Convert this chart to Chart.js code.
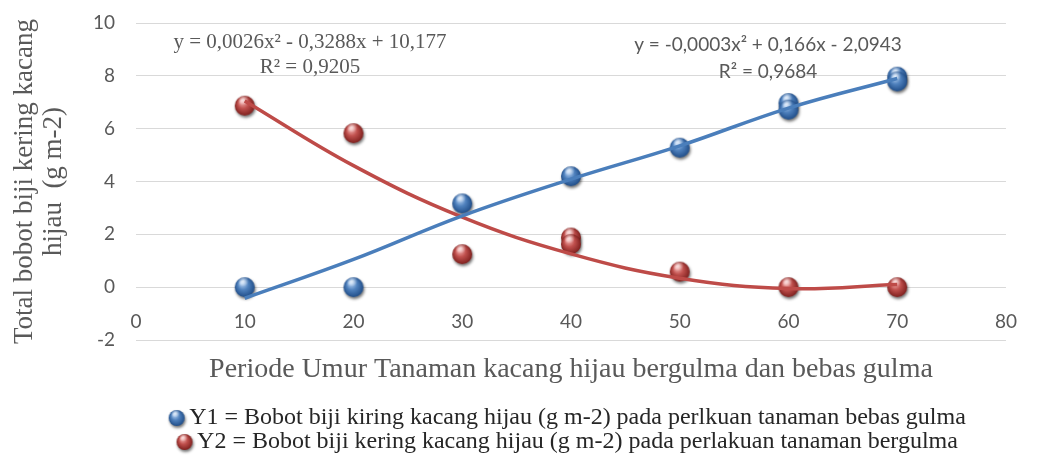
<!DOCTYPE html>
<html>
<head>
<meta charset="utf-8">
<script src="https://cdn.jsdelivr.net/npm/chart.js@4/dist/chart.umd.min.js"></script>
<style>
  html,body{margin:0;padding:0;background:#fff}
  #wrap{width:1040px;height:455px;position:relative}
</style>
</head>
<body>
<div id="wrap"><canvas id="chart"></canvas></div>
<script>
// values
const periods = [10, 20, 30, 40, 50, 60, 70];
const y1X = [10, 20, 30, 40, 50, 60, 60, 70, 70];
const y1Val = [0, 0, 3.17, 4.2, 5.28, 6.97, 6.72, 7.97, 7.79];
const y2X = [10, 20, 30, 40, 40, 50, 60, 70];
const y2Val = [6.87, 5.83, 1.25, 1.88, 1.63, 0.59, 0, 0];
// trend curves as drawn in the picture, sampled at each period
const y1Trend = [-0.42, 1.05, 2.7, 4.09, 5.35, 6.78, 7.9];
const y2Trend = [7.05, 4.6, 2.65, 1.26, 0.34, -0.05, 0.1];

const xMin = 0, xMax = 80, xStep = 10;
const yMin = -2, yMax = 10, yStep = 2;

const seriesNames = [
  'Y1 = Bobot biji kiring kacang hijau (g m-2) pada perlkuan tanaman bebas gulma',
  'Y2 = Bobot biji kering kacang hijau (g m-2) pada perlakuan tanaman bergulma'
];
const xTitle = 'Periode Umur Tanaman kacang hijau bergulma dan bebas gulma';
const yTitle = ['Total bobot biji kering kacang', 'hijau  (g m-2)'];
const eqY2 = ['y = 0,0026x\u00B2 - 0,3288x + 10,177', 'R\u00B2 = 0,9205'];
const eqY1 = ['y = -0,0003x\u00B2 + 0,166x - 2,0943', 'R\u00B2 = 0,9684'];

const blue = {base:'#4f81bd', light:'#b4d0f2', dark:'#1d4a85', line:'#4a7ebb'};
const red = {base:'#c0504d', light:'#f3b0ae', dark:'#7a1d1b', line:'#be4b48'};

// glossy ball used as point marker
function sphere(c, r){
  const pad = 5;
  const cv = document.createElement('canvas');
  cv.width = cv.height = 2*r + 2*pad;
  const g = cv.getContext('2d');
  const cx = r + pad, cy = r + pad;
  g.save();
  g.shadowColor = 'rgba(0,0,0,0.55)';
  g.shadowBlur = 3; g.shadowOffsetX = 1; g.shadowOffsetY = 2;
  const grad = g.createRadialGradient(cx - r*0.3, cy - r*0.45, r*0.1, cx, cy, r*1.05);
  grad.addColorStop(0, c.light);
  grad.addColorStop(0.45, c.base);
  grad.addColorStop(1, c.dark);
  g.fillStyle = grad;
  g.beginPath(); g.arc(cx, cy, r, 0, Math.PI*2); g.fill();
  g.restore();
  // small highlight
  const hl = g.createRadialGradient(cx - r*0.15, cy - r*0.6, 0, cx - r*0.15, cy - r*0.6, r*0.55);
  hl.addColorStop(0, 'rgba(255,255,255,0.7)');
  hl.addColorStop(1, 'rgba(255,255,255,0)');
  g.fillStyle = hl;
  g.beginPath(); g.arc(cx, cy, r, 0, Math.PI*2); g.fill();
  return cv;
}
const blueBall = sphere(blue, 10), redBall = sphere(red, 10);
const blueMini = sphere(blue, 8), redMini = sphere(red, 8);

const pts = (xs, ys) => xs.map((x, i) => ({x, y: ys[i]}));

const equations = {
  id: 'equations',
  afterDatasetsDraw(chart){
    const c = chart.ctx;
    c.save();
    c.fillStyle = '#595959';
    c.textAlign = 'center';
    c.textBaseline = 'middle';
    c.font = '21px "Liberation Serif"';
    c.fillText(eqY2[0], 310, 42);
    c.fillText(eqY2[1], 310, 67);
    c.font = '19px Lato';
    c.fillText(eqY1[0], 768, 45);
    c.fillText(eqY1[1], 768, 71.5);
    c.restore();
  }
};

new Chart(document.getElementById('chart'), {
  type: 'scatter',
  data: {
    datasets: [
      {label: seriesNames[0], data: pts(y1X, y1Val), pointStyle: blueBall, order: 2},
      {label: seriesNames[1], data: pts(y2X, y2Val), pointStyle: redBall, order: 2},
      {type: 'line', label: 'trend1', data: pts(periods, y1Trend), borderColor: blue.line, borderWidth: 3.5,
       pointRadius: 0, tension: 0.4, fill: false, order: 1},
      {type: 'line', label: 'trend2', data: pts(periods, y2Trend), borderColor: red.line, borderWidth: 3.5,
       pointRadius: 0, tension: 0.4, fill: false, order: 1}
    ]
  },
  options: {
    responsive: true,
    maintainAspectRatio: false,
    animation: false,
    events: [],
    layout: {padding: {top: 23, right: 12, bottom: -9, left: 0}},
    scales: {
      x: {
        type: 'linear', min: xMin, max: xMax,
        position: {y: 0},
        grid: {display: false, drawTicks: false},
        border: {display: false},
        ticks: {stepSize: xStep, padding: 23, color: '#595959', font: {family: 'Lato', size: 19}}
      },
      y: {
        min: yMin, max: yMax,
        grid: {color: '#d9d9d9', lineWidth: 1, drawTicks: false},
        border: {display: false},
        ticks: {stepSize: yStep, padding: 21, color: '#595959', font: {family: 'Lato', size: 19}},
        title: {display: true, text: yTitle, color: '#595959', padding: {top: 10.5, bottom: 0},
                font: {family: 'Liberation Serif', size: 27, lineHeight: 1.07}},
        afterFit(s){ s.width = 136; s.paddingTop = 0; s.paddingBottom = 0; }
      }
    },
    plugins: {
      tooltip: {enabled: false},
      title: {
        display: true, position: 'bottom', text: xTitle, weight: 500, fullSize: false,
        color: '#595959', font: {family: 'Liberation Serif', size: 28, weight: 'normal', lineHeight: 1.2},
        padding: {top: 13.2, bottom: 19.2}
      },
      legend: {
        position: 'bottom', fullSize: false,
        labels: {
          usePointStyle: true, pointStyleWidth: 1, padding: 0, color: '#262626',
          font: {family: 'Liberation Serif', size: 24},
          generateLabels(){
            return [
              {text: seriesNames[0], pointStyle: blueMini, datasetIndex: 0, fontColor: '#262626', lineWidth: 0, hidden: false},
              {text: seriesNames[1], pointStyle: redMini, datasetIndex: 1, fontColor: '#262626', lineWidth: 0, hidden: false}
            ];
          }
        }
      }
    }
  },
  plugins: [equations]
});
</script>
</body>
</html>
